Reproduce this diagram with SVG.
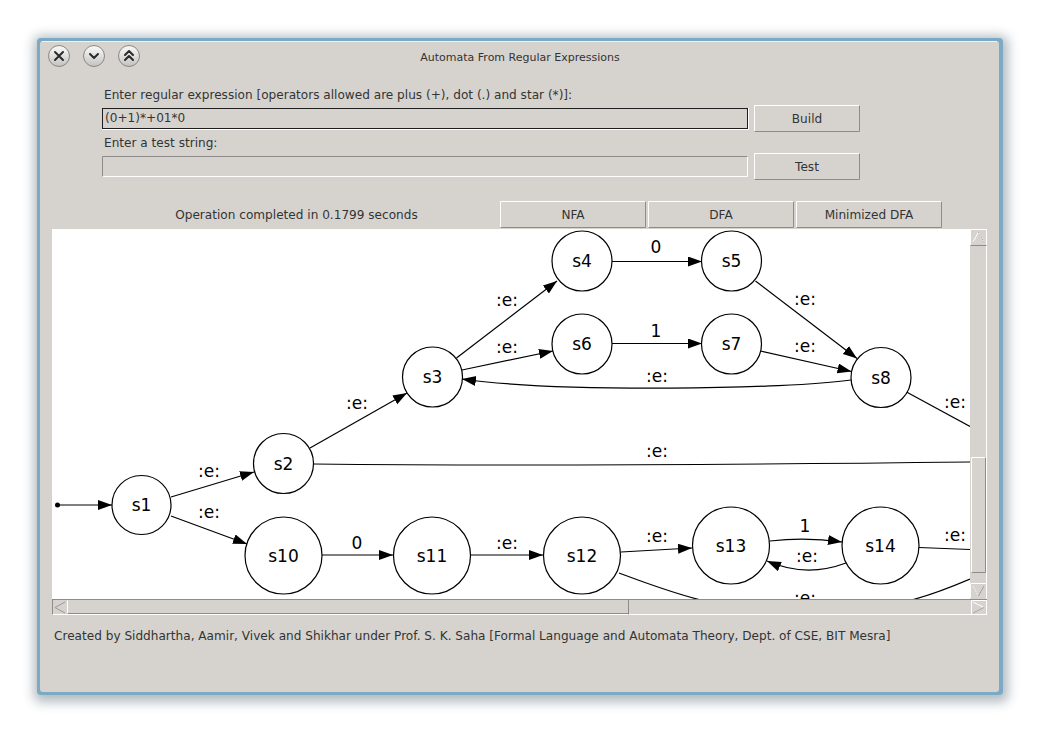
<svg xmlns="http://www.w3.org/2000/svg" width="1040" height="733" viewBox="0 0 1040 733">
<style>
.ui{font-family:"DejaVu Sans",sans-serif;font-size:12.1px;fill:#333}
.ttl{font-family:"DejaVu Sans",sans-serif;font-size:11px;fill:#333;text-anchor:middle}
.ctr{text-anchor:middle}
.node circle{fill:#fff;stroke:#000;stroke-width:1.2}
.node text{font-family:"DejaVu Sans",sans-serif;font-size:17px;text-anchor:middle;fill:#000}
.edge{fill:none;stroke:#000;stroke-width:1.2}
.arr{marker-end:url(#ah)}
.lbl{font-family:"DejaVu Sans",sans-serif;font-size:17px;text-anchor:middle;fill:#000}
.face{fill:#d6d3cf}
.hi{fill:none;stroke:#fff;stroke-width:1}
.lo{fill:none;stroke:#8e8b88;stroke-width:1}
.tb{fill:url(#tbg);stroke:#8a8886;stroke-width:1}
.tg{fill:none;stroke:#2a2a2a;stroke-width:2;stroke-linecap:round;stroke-linejoin:round}
</style>
<defs>
<marker id="ah" markerWidth="15" markerHeight="11" refX="14" refY="5" orient="auto" markerUnits="userSpaceOnUse" viewBox="0 0 15 11">
<path d="M0,0 L14,5 L0,10 z" fill="#000"/>
</marker>
<linearGradient id="tbg" x1="0" y1="0" x2="0" y2="1">
<stop offset="0" stop-color="#fbfbfb"/>
<stop offset="1" stop-color="#c4c2c0"/>
</linearGradient>
<filter id="sh" x="-10%" y="-10%" width="120%" height="120%">
<feGaussianBlur stdDeviation="6"/>
</filter>
<clipPath id="gc"><rect x="52" y="229" width="918" height="370"/></clipPath>
</defs>

<rect x="0" y="0" width="1040" height="733" fill="#fff"/>
<!-- window shadow and frame -->
<rect x="34" y="36" width="974" height="666" rx="6" fill="#6f7f8a" opacity="0.55" filter="url(#sh)"/>
<rect x="37" y="38" width="966" height="657" rx="4" fill="#7aaac6"/>
<rect x="40" y="41" width="959" height="651" rx="3" fill="#d6d3cf"/>
<line x1="42" y1="41.5" x2="997" y2="41.5" stroke="#eef3f6" stroke-width="1"/>

<!-- title bar -->
<g id="titlebar">
<circle class="tb" cx="59" cy="56" r="10.5"/>
<path class="tg" d="M55,52 L63,60 M63,52 L55,60"/>
<circle class="tb" cx="94" cy="56" r="10.5"/>
<path class="tg" d="M90,54 L94,58 L98,54" stroke-width="1.8"/>
<circle class="tb" cx="129" cy="56" r="10.5"/>
<path class="tg" d="M125,55 L129,51 L133,55 M125,60 L129,56 L133,60" stroke-width="1.8"/>
<text class="ttl" x="520" y="61">Automata From Regular Expressions</text>
</g>

<!-- form -->
<g id="form">
<text class="ui" x="104" y="99">Enter regular expression [operators allowed are plus (+), dot (.) and star (*)]:</text>
<rect x="102.5" y="108.5" width="645" height="20" fill="#d6d3cf" stroke="#1e1e1e"/>
<path class="hi" d="M102,129.5 H748.5 V108"/>
<text class="ui" x="105" y="122">(0+1)*+01*0</text>
<rect class="face" x="754" y="105" width="106" height="26"/>
<path class="hi" d="M754.5,131 V105.5 H860"/>
<path class="lo" d="M754.5,131.5 H859.5 V105.5"/>
<text class="ui ctr" x="807" y="123">Build</text>

<text class="ui" x="104" y="147">Enter a test string:</text>
<rect x="102" y="156" width="646" height="21" fill="#d6d3cf"/>
<path class="lo" d="M102.5,177 V156.5 H748"/>
<path class="hi" d="M102.5,176.5 H747.5 V156.5"/>
<rect class="face" x="754" y="153" width="106" height="26"/>
<path class="hi" d="M754.5,179 V153.5 H860"/>
<path class="lo" d="M754.5,179.5 H859.5 V153.5"/>
<text class="ui ctr" x="807" y="171">Test</text>

<text class="ui ctr" x="296.5" y="219">Operation completed in 0.1799 seconds</text>
<rect class="face" x="500" y="201" width="146" height="27"/>
<path class="hi" d="M500.5,228 V201.5 H646"/>
<path class="lo" d="M500.5,227.5 H645.5 V201.5"/>
<text class="ui ctr" x="573" y="219">NFA</text>
<rect class="face" x="648" y="201" width="146" height="27"/>
<path class="hi" d="M648.5,228 V201.5 H794"/>
<path class="lo" d="M648.5,227.5 H793.5 V201.5"/>
<text class="ui ctr" x="721" y="219">DFA</text>
<rect class="face" x="796" y="201" width="146" height="27"/>
<path class="hi" d="M796.5,228 V201.5 H942"/>
<path class="lo" d="M796.5,227.5 H941.5 V201.5"/>
<text class="ui ctr" x="869" y="219">Minimized DFA</text>
</g>

<!-- graph panel -->
<rect x="52" y="229" width="918" height="370" fill="#fff"/>

<g id="connectors" clip-path="url(#gc)">
<circle cx="57.5" cy="505" r="2.5" fill="#000"/>
<path class="edge arr" d="M57.5,505 L112,505"/>
<path class="edge arr" d="M171,497 L254,472"/>
<path class="edge arr" d="M171,516 L247,544"/>
<path class="edge arr" d="M322,555 L393,555"/>
<path class="edge arr" d="M471,555 L543,555"/>
<path class="edge arr" d="M621,552 L692,548"/>
<path class="edge" d="M619,573 C670,592 720,612 805,612 C890,612 930,596 970,579"/>
<path class="edge arr" d="M770,541 Q806,537 842,542"/>
<path class="edge arr" d="M846,563 Q806,578 767,561"/>
<path class="edge" d="M919,547.5 L970,549.5"/>
<path class="edge arr" d="M310,448 L407,393"/>
<path class="edge" d="M313,464 C500,466 800,464 970,462"/>
<path class="edge arr" d="M456.5,358 L557,281"/>
<path class="edge arr" d="M462,370 L553,351"/>
<path class="edge arr" d="M612,261.5 L702,261.5"/>
<path class="edge arr" d="M612,343.5 L702,343.5"/>
<path class="edge arr" d="M755.5,281 L857,358.5"/>
<path class="edge arr" d="M760.5,351 L851.5,371.5"/>
<path class="edge arr" d="M851,380 C790,389 560,393 462,379"/>
<path class="edge" d="M906.5,392 L970,426.5"/>

<text class="lbl" x="209" y="477">:e:</text>
<text class="lbl" x="209" y="518">:e:</text>
<text class="lbl" x="357" y="549">0</text>
<text class="lbl" x="507" y="549">:e:</text>
<text class="lbl" x="657" y="542">:e:</text>
<text class="lbl" x="805" y="532">1</text>
<text class="lbl" x="807" y="562">:e:</text>
<text class="lbl" x="955" y="541">:e:</text>
<text class="lbl" x="805" y="604">:e:</text>
<text class="lbl" x="657" y="457">:e:</text>
<text class="lbl" x="357" y="409">:e:</text>
<text class="lbl" x="507" y="306">:e:</text>
<text class="lbl" x="507" y="353">:e:</text>
<text class="lbl" x="656" y="253">0</text>
<text class="lbl" x="656" y="337">1</text>
<text class="lbl" x="657" y="382">:e:</text>
<text class="lbl" x="805" y="305">:e:</text>
<text class="lbl" x="805" y="352">:e:</text>
<text class="lbl" x="955" y="408">:e:</text>
</g>

<g id="s1" class="node"><circle cx="141.5" cy="505" r="29.5"/><text x="141.5" y="511">s1</text></g>
<g id="s2" class="node"><circle cx="283.5" cy="463.5" r="30"/><text x="283.5" y="469.5">s2</text></g>
<g id="s3" class="node"><circle cx="432.5" cy="377" r="30"/><text x="432.5" y="383">s3</text></g>
<g id="s4" class="node"><circle cx="582" cy="261" r="30"/><text x="582" y="267">s4</text></g>
<g id="s5" class="node"><circle cx="731.5" cy="261" r="30"/><text x="731.5" y="267">s5</text></g>
<g id="s6" class="node"><circle cx="582" cy="344" r="30"/><text x="582" y="350">s6</text></g>
<g id="s7" class="node"><circle cx="731.5" cy="344" r="30"/><text x="731.5" y="350">s7</text></g>
<g id="s8" class="node"><circle cx="881" cy="377.5" r="30"/><text x="881" y="383.5">s8</text></g>
<g id="s10" class="node"><circle cx="283.5" cy="555.5" r="38.5"/><text x="283.5" y="561.5">s10</text></g>
<g id="s11" class="node"><circle cx="432" cy="555.5" r="38.5"/><text x="432" y="561.5">s11</text></g>
<g id="s12" class="node"><circle cx="582" cy="555.5" r="38.5"/><text x="582" y="561.5">s12</text></g>
<g id="s13" class="node"><circle cx="731" cy="545.5" r="38.5"/><text x="731" y="551.5">s13</text></g>
<g id="s14" class="node"><circle cx="880.5" cy="545.5" r="38.5"/><text x="880.5" y="551.5">s14</text></g>

<!-- vertical scrollbar -->
<g id="vscroll">
<rect class="face" x="970" y="229" width="17" height="370"/>
<line x1="986.5" y1="229" x2="986.5" y2="599" stroke="#fff"/>
<path class="hi" d="M970.5,245 V229.5 H986.5"/>
<path class="lo" d="M970.5,245.5 H986.5"/>
<path d="M973,242 L978.5,232 L984,242 Z" fill="none" stroke="#fff" stroke-width="1"/>
<path d="M978.5,232 L984,242 H973" fill="none" stroke="#9a9794" stroke-width="1" stroke-dasharray="1,1"/>
<rect class="face" x="971" y="457" width="15" height="116"/>
<path class="hi" d="M971.5,573 V457.5 H986"/>
<path class="lo" d="M971.5,572.5 H985.5 V457.5"/>
<path class="hi" d="M970.5,598 V583.5 H986.5"/>
<path d="M973,586 L978.5,596 L984,586" fill="none" stroke="#fff" stroke-width="1" stroke-dasharray="1,1"/>
<path d="M978.5,596 L984,586" fill="none" stroke="#9a9794" stroke-width="1"/>
</g>

<!-- horizontal scrollbar -->
<g id="hscroll">
<rect class="face" x="52" y="599" width="935" height="16"/>
<line x1="52" y1="599.5" x2="987" y2="599.5" stroke="#8e8b88"/>
<line x1="52" y1="614.5" x2="987" y2="614.5" stroke="#fff"/>
<path class="lo" d="M52.5,600 V614.5"/>
<path d="M65,602 L55,607.5 L65,613" fill="none" stroke="#9a9794" stroke-width="1"/>
<path class="hi" d="M67.5,614 V600.5"/>
<path class="hi" d="M67.5,614 H628"/>
<path class="lo" d="M628.5,600 V614.5 M67.5,613.5 H628.5"/>
<path class="hi" d="M971.5,614 V600.5 H986.5 V614.5"/>
<path d="M973,602 L984,607.5 L973,613" fill="none" stroke="#fff" stroke-width="1"/>
<path d="M984,607.5 L973,613" fill="none" stroke="#9a9794" stroke-width="1"/>
</g>

<text class="ui" x="54" y="640">Created by Siddhartha, Aamir, Vivek and Shikhar under Prof. S. K. Saha [Formal Language and Automata Theory, Dept. of CSE, BIT Mesra]</text>
</svg>
